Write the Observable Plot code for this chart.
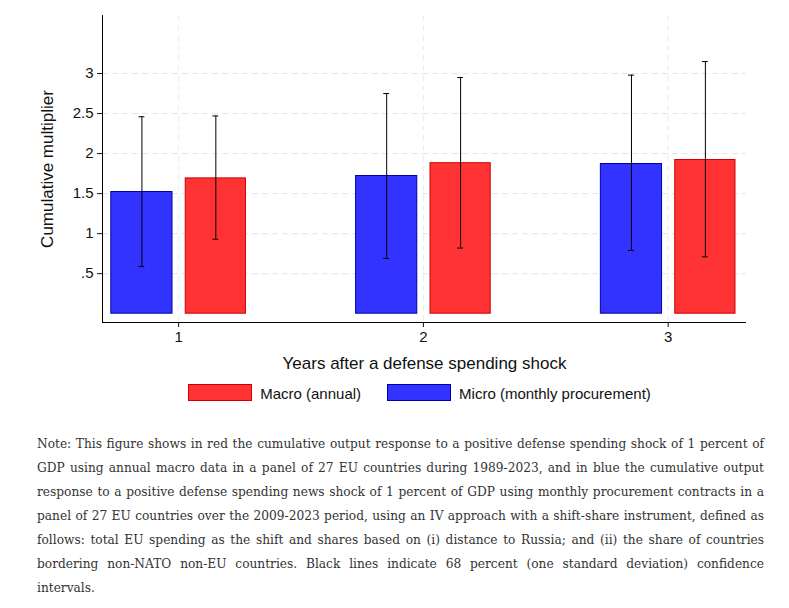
<!DOCTYPE html>
<html><head><meta charset="utf-8">
<script src="https://cdn.jsdelivr.net/npm/d3@7"></script>
<script src="https://cdn.jsdelivr.net/npm/@observablehq/plot@0.6"></script>
<style>
body{margin:0;background:#fff;font-family:Arial,"Liberation Sans",sans-serif;}
#legend{display:flex;justify-content:center;gap:26px;margin-left:50px;margin-top:8px;font-size:15px;color:#111;}
#legend span.sw{display:inline-block;width:62px;height:15px;vertical-align:-2px;margin-right:8px;}
#note{font-family:"DejaVu Serif",serif;font-size:12.2px;line-height:24px;color:#333;text-align:justify;margin:30px 25px 0 37px;}
</style></head><body>
<div id="chart"></div>
<div id="legend"><div><span class="sw" style="background:#ff3333;border:1px solid #c00"></span>Macro (annual)</div><div><span class="sw" style="background:#3333ff;border:1px solid #00a"></span>Micro (monthly procurement)</div></div>
<div id="note">Note: This figure shows in red the cumulative output response to a positive defense spending shock of 1 percent of GDP using annual macro data in a panel of 27 EU countries during 1989-2023, and in blue the cumulative output response to a positive defense spending news shock of 1 percent of GDP using monthly procurement contracts in a panel of 27 EU countries over the 2009-2023 period, using an IV approach with a shift-share instrument, defined as follows: total EU spending as the shift and shares based on (i) distance to Russia; and (ii) the share of countries bordering non-NATO non-EU countries. Black lines indicate 68 percent (one standard deviation) confidence intervals.</div>
<script>
const years=[1,2,3];
const microVal=[1.52,1.72,1.87];
const microLo=[0.59,0.69,0.79];
const microHi=[2.46,2.75,2.98];
const macroVal=[1.69,1.88,1.92];
const macroLo=[0.93,0.82,0.71];
const macroHi=[2.47,2.95,3.15];
const yTicks=[0.5,1,1.5,2,2.5,3];
const yTickLabels=[".5","1","1.5","2","2.5","3"];

const data=[];
years.forEach((y,i)=>{
  data.push({year:y,s:"micro",a:y-0.275,b:y-0.025,v:microVal[i],lo:microLo[i],hi:microHi[i]});
  data.push({year:y,s:"macro",a:y+0.029,b:y+0.275,v:macroVal[i],lo:macroLo[i],hi:macroHi[i]});
});
data.forEach(d=>{d.c=(d.a+d.b)/2;d.c1=d.c-0.012;d.c2=d.c+0.012;});

const p=Plot.plot({
  width:789,height:376,marginLeft:102,marginRight:43,marginTop:15,marginBottom:54,
  style:{fontSize:"15px",fontFamily:"Arial, Liberation Sans, sans-serif",color:"#111"},
  x:{domain:[0.689,3.32]},
  y:{domain:[-0.11,3.725]},
  marks:[
    Plot.ruleY(yTicks,{stroke:"#e4e4e4",strokeDasharray:"6,4"}),
    Plot.ruleX(years,{stroke:"#ececec",strokeDasharray:"6,4"}),
    Plot.rectY(data,{x1:"a",x2:"b",y1:0,y2:"v",fill:d=>d.s==="micro"?"#3333ff":"#ff3333",stroke:d=>d.s==="micro"?"#0000aa":"#cc0000",strokeWidth:1}),
    Plot.ruleX(data,{x:"c",y1:"lo",y2:"hi",stroke:"#000",strokeWidth:1}),
    Plot.ruleY(data,{x1:"c1",x2:"c2",y:"lo",stroke:"#000"}),
    Plot.ruleY(data,{x1:"c1",x2:"c2",y:"hi",stroke:"#000"}),
    Plot.axisY({ticks:yTicks,tickFormat:(d,i)=>yTickLabels[i],tickSize:5,label:"Cumulative multiplier",labelAnchor:"center",labelArrow:"none",labelOffset:62,fontSize:15}),
    Plot.axisX({ticks:years,tickFormat:d=>String(d),tickSize:5,label:"Years after a defense spending shock",labelAnchor:"center",labelArrow:"none",labelOffset:46,fontSize:15}),
    Plot.ruleX([0.689],{stroke:"#000"}),
    Plot.ruleY([-0.11],{stroke:"#000"})
  ]
});
p.querySelectorAll("g[aria-label='y-axis label'] text, g[aria-label='x-axis label'] text").forEach(t=>t.style.fontSize="17px");
document.getElementById("chart").appendChild(p);
</script>
</body></html>
